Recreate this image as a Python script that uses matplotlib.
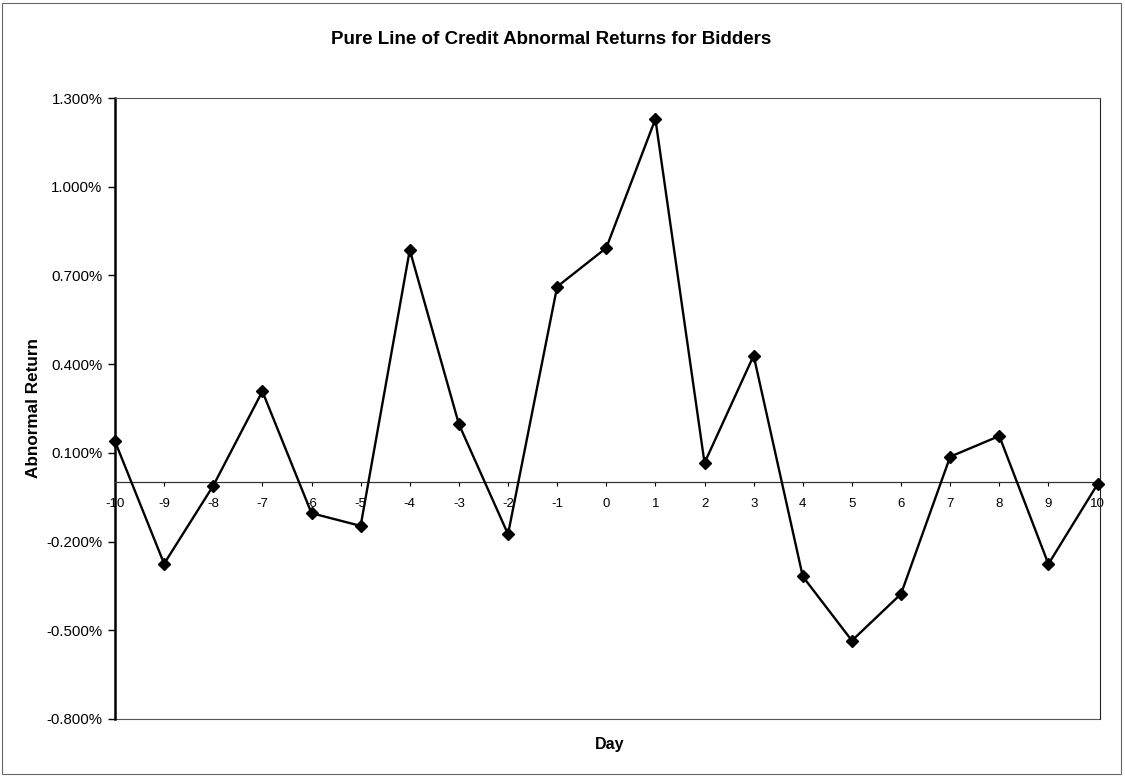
import matplotlib
matplotlib.use("Agg")
import matplotlib.pyplot as plt
from matplotlib.patches import Rectangle
from matplotlib.ticker import FuncFormatter, FixedLocator

plt.rcParams['font.family'] = ['Liberation Sans', 'DejaVu Sans']

# Event days and abnormal returns (in percent)
days = list(range(-10, 11))
abnormal_return = [0.139, -0.275, -0.011, 0.308, -0.104, -0.147, 0.786, 0.197,
                   -0.175, 0.662, 0.793, 1.229, 0.066, 0.429, -0.318, -0.535,
                   -0.377, 0.087, 0.157, -0.276, -0.006]
y_ticks = [-0.8, -0.5, -0.2, 0.1, 0.4, 0.7, 1.0, 1.3]

title = "Pure Line of Credit Abnormal Returns for Bidders"

fig = plt.figure(figsize=(11.25, 7.76), dpi=100)
ax = fig.add_axes([115 / 1125, 1 - 719 / 776, 985 / 1125, 621 / 776])

ax.plot(days, abnormal_return, color='black', linewidth=1.7,
        marker='D', markersize=6.5, markerfacecolor='black',
        markeredgecolor='black', zorder=5, clip_on=False)

ax.set_xlim(-10, 10.05)
ax.set_ylim(-0.8, 1.3)

# y axis: thick left spine with outward ticks
ax.yaxis.set_major_locator(FixedLocator(y_ticks))
ax.yaxis.set_major_formatter(FuncFormatter(lambda v, p: f"{v:.3f}%"))
ax.tick_params(axis='y', direction='out', length=5, width=1, pad=4,
               labelsize=10.8, colors='black')
ax.spines['left'].set_linewidth(1.8)

# x axis drawn through zero
ax.spines['bottom'].set_position(('data', 0))
ax.spines['bottom'].set_linewidth(0.9)
ax.spines['bottom'].set_color('#333333')
ax.set_xticks(days)
ax.set_xticklabels([str(d) for d in days])
ax.tick_params(axis='x', direction='out', length=3, width=0.8, pad=8,
               labelsize=9.5, colors='black')

# remaining frame of the plot area
ax.spines['top'].set_linewidth(0.8)
ax.spines['top'].set_color('#555555')
ax.spines['right'].set_linewidth(0.8)
ax.spines['right'].set_color('#222222')
ax.add_patch(Rectangle((0, 0), 1, 0.0, transform=ax.transAxes, fill=False,
                       edgecolor='#555555', linewidth=0.8, clip_on=False))

ax.set_ylabel("Abnormal Return", fontsize=12.3, fontweight='bold')
ax.yaxis.set_label_coords(-0.075, 0.5)
fig.text(610 / 1125, 1 - 745 / 776, "Day", ha='center', va='center',
         fontsize=11.5, fontweight='bold')
fig.text(551 / 1125, 1 - 40 / 776, title, ha='center', va='center',
         fontsize=13.5, fontweight='bold')

# outer chart border
fig.add_artist(Rectangle((0.002, 0.002), 0.994, 0.994, transform=fig.transFigure,
                         fill=False, edgecolor='#666666', linewidth=0.8))

fig.savefig("out.png", dpi=100)
